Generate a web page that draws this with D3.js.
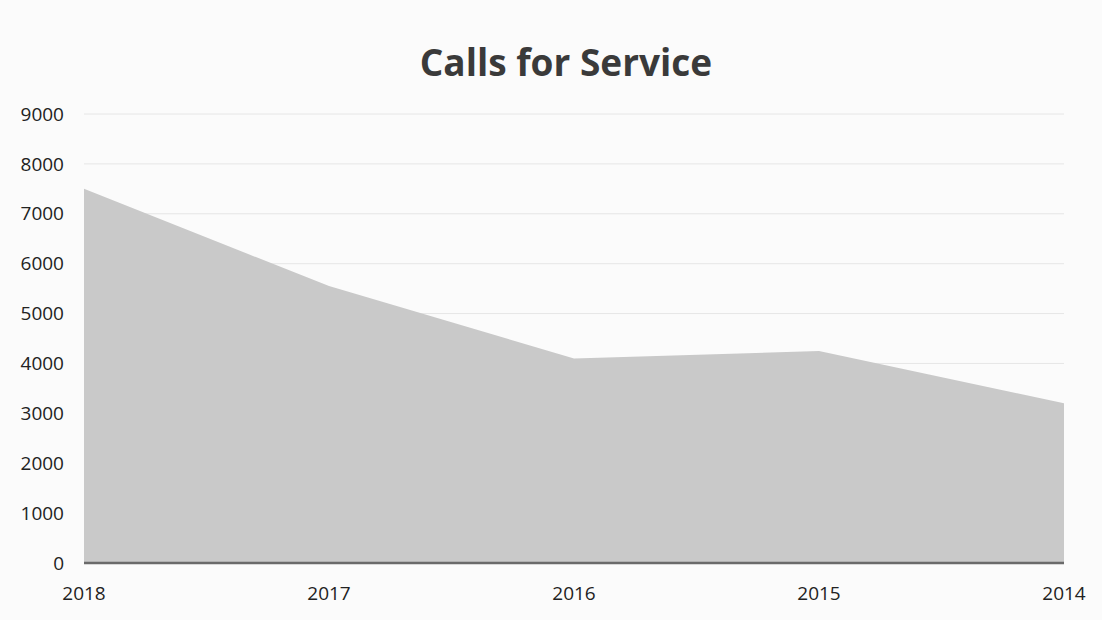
<!DOCTYPE html>
<html>
<head>
<meta charset="utf-8">
<script src="https://cdn.jsdelivr.net/npm/d3@7"></script>
<style>
  body { margin: 0; background: #fbfbfb; }
  svg { display: block; }
</style>
</head>
<body>
<div id="chart"></div>
<script>
const years = ["2018", "2017", "2016", "2015", "2014"];
const calls = [7500, 5550, 4100, 4250, 3200];
const yTicks = [0, 1000, 2000, 3000, 4000, 5000, 6000, 7000, 8000, 9000];

const width = 1102;
const height = 620;
const margin = {top: 114, right: 38, bottom: 57, left: 84};

const svg = d3.select("#chart").append("svg")
    .attr("width", width)
    .attr("height", height);

const x = d3.scalePoint()
    .domain(years)
    .range([margin.left, width - margin.right]);

const y = d3.scaleLinear()
    .domain([0, 9000])
    .range([height - margin.bottom, margin.top]);

// grid
svg.append("g")
    .selectAll("line")
    .data(yTicks.slice(1))
    .enter()
    .append("line")
    .attr("x1", margin.left)
    .attr("x2", width - margin.right)
    .attr("y1", d => y(d))
    .attr("y2", d => y(d))
    .attr("stroke", "#e6e6e6")
    .attr("stroke-width", 1);

const data = years.map((yr, i) => ({year: yr, value: calls[i]}));

const area = d3.area()
    .x(d => x(d.year))
    .y0(y(0))
    .y1(d => y(d.value));

svg.append("path")
    .datum(data)
    .attr("d", area)
    .attr("fill", "#c9c9c9");

// baseline
svg.append("line")
    .attr("x1", margin.left)
    .attr("x2", width - margin.right)
    .attr("y1", y(0))
    .attr("y2", y(0))
    .attr("stroke", "#6a6a6a")
    .attr("stroke-width", 2.5);

// y labels
svg.append("g")
    .selectAll("text")
    .data(yTicks)
    .enter()
    .append("text")
    .attr("x", 64)
    .attr("y", d => y(d))
    .attr("dy", "0.35em")
    .attr("text-anchor", "end")
    .attr("font-family", "Open Sans, sans-serif")
    .attr("font-size", 19)
    .attr("fill", "#222")
    .text(d => d);

// x labels
svg.append("g")
    .selectAll("text")
    .data(years)
    .enter()
    .append("text")
    .attr("x", d => x(d))
    .attr("y", height - margin.bottom + 37)
    .attr("text-anchor", "middle")
    .attr("font-family", "Open Sans, sans-serif")
    .attr("font-size", 19)
    .attr("fill", "#222")
    .text(d => d);

svg.append("text")
    .attr("x", 566)
    .attr("y", 76)
    .attr("text-anchor", "middle")
    .attr("font-family", "Open Sans, sans-serif")
    .attr("font-weight", "bold")
    .attr("font-size", 37)
    .attr("fill", "#3a3a3a")
    .text("Calls for Service");
</script>
</body>
</html>
